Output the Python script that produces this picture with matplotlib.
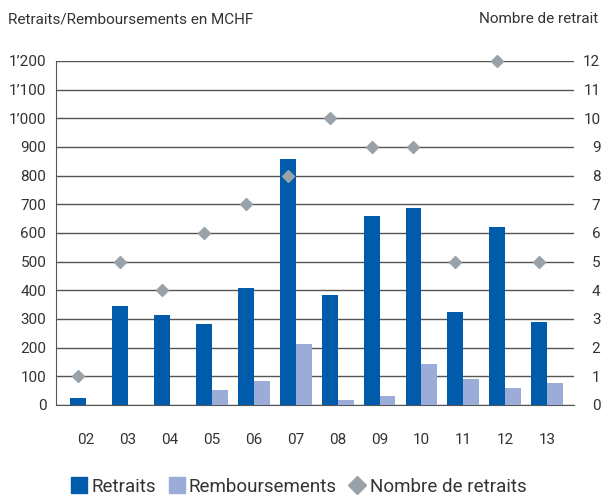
import matplotlib
matplotlib.use("Agg")
import matplotlib.pyplot as plt
import numpy as np
from matplotlib.lines import Line2D

years = ["02", "03", "04", "05", "06", "07", "08", "09", "10", "11", "12", "13"]
retraits = [25, 345, 314, 283, 408, 858, 384, 660, 687, 324, 620, 289]
remboursements = [0, 0, 0, 52, 84, 212, 17, 31, 144, 91, 58, 77]
nombre = [1, 5, 4, 6, 7, 8, 10, 9, 9, 5, 12, 5]
left_ticks = list(range(0, 1300, 100))
left_labels = ["0", "100", "200", "300", "400", "500", "600", "700", "800", "900",
               "1’000", "1’100", "1’200"]
right_ticks = list(range(0, 13))

dark = "#005BAA"
light = "#9CACD9"
grey = "#98A2A8"
txt = "#333333"

plt.rcParams['font.family'] = ['Roboto', 'DejaVu Sans']

fig = plt.figure(figsize=(6.05, 4.97), dpi=100)
ax = fig.add_axes([56/605, (497-405)/497, (574-56)/605, (405-61)/497])
x = np.arange(len(years))
w = 0.38
ax.bar(x - w/2, retraits, width=w, color=dark, zorder=3)
ax.bar(x + w/2, remboursements, width=w, color=light, zorder=3)
ax.set_ylim(0, 1200)
ax.set_xlim(-0.72, 11.64)
ax.set_yticks(left_ticks)
ax.set_yticklabels(left_labels)
ax.yaxis.grid(True, color="#555555", linewidth=1.0, zorder=0)
ax.set_axisbelow(True)
for s in ["top", "right"]:
    ax.spines[s].set_visible(False)
ax.spines["left"].set_color("#555555")
ax.spines["bottom"].set_color("#555555")
ax.set_xticks(x)
ax.set_xticklabels(years)
ax.tick_params(axis="x", length=0, pad=20, labelsize=11, labelcolor=txt)
ax.tick_params(axis="y", length=0, pad=7, labelsize=11, labelcolor=txt)

ax2 = ax.twinx()
ax2.set_ylim(0, 12)
ax2.set_yticks(right_ticks)
ax2.plot(x - w/2, nombre, linestyle="none", marker="D", markersize=6.5,
         color=grey, zorder=5, clip_on=False)
for s in ["top", "right", "left", "bottom"]:
    ax2.spines[s].set_visible(False)
ax2.tick_params(axis="y", length=0, pad=19, labelsize=11, labelcolor=txt)
for lab in ax2.get_yticklabels():
    lab.set_horizontalalignment("right")

fig.text(8/605, 1 - 19/497, "Retraits/Remboursements en MCHF", ha="left", va="center",
         fontsize=11, color=txt)
fig.text(598/605, 1 - 19/497, "Nombre de retrait", ha="right", va="center",
         fontsize=11, color=txt)

handles = [
    Line2D([], [], linestyle="none", marker="s", markersize=11, color=dark),
    Line2D([], [], linestyle="none", marker="s", markersize=11, color=light),
    Line2D([], [], linestyle="none", marker="D", markersize=9, color=grey),
]
fig.legend(handles, ["Retraits", "Remboursements", "Nombre de retraits"],
           loc="center", bbox_to_anchor=(298/605, 1 - 487/497), ncol=3, frameon=False,
           fontsize=13.5, handletextpad=0.15, columnspacing=0.6, handlelength=1.0,
           labelcolor=txt)

fig.savefig("out.png", dpi=100)
